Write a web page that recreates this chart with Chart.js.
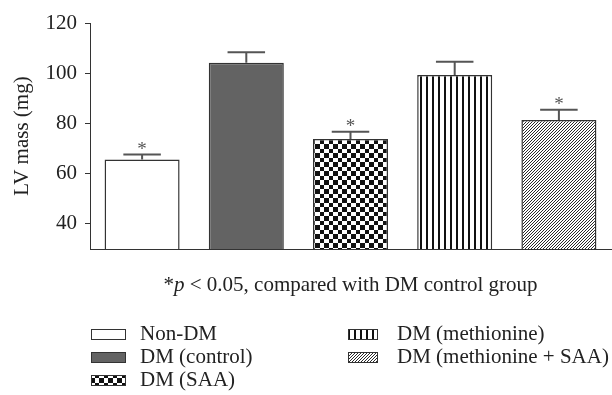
<!DOCTYPE html>
<html>
<head>
<meta charset="utf-8">
<script src="https://cdn.jsdelivr.net/npm/chart.js@4"></script>
<style>
    body { margin: 0; background: #fff; }
    #wrap { width: 612px; height: 395px; position: relative; }
</style>
</head>
<body>
<div id="wrap"><canvas id="lvChart"></canvas></div>
<script>
// Data
const groups = ['Non-DM', 'DM (control)', 'DM (SAA)', 'DM (methionine)', 'DM (methionine + SAA)'];
const lvMass = [65.6, 104.2, 73.8, 99.3, 81.4];
const lvSem = [2.0, 4.2, 2.9, 5.3, 4.1];
const significant = [true, false, true, false, true];
const yTicks = [40, 60, 80, 100, 120];

const FONT = "'Liberation Serif', 'DejaVu Serif', serif";

// Fill patterns
function makePattern(size, draw) {
    const c = document.createElement('canvas');
    c.width = size; c.height = size;
    const g = c.getContext('2d');
    g.fillStyle = '#fff';
    g.fillRect(0, 0, size, size);
    draw(g, size);
    return document.createElement('canvas').getContext('2d').createPattern(c, 'repeat');
}

const checker = makePattern(9, function(g) {
    g.fillStyle = '#111';
    g.fillRect(0, 0, 5, 5);
    g.fillRect(5, 5, 4, 4);
});

const vStripes = makePattern(6, function(g) {
    g.fillStyle = '#111';
    g.fillRect(0, 0, 2, 6);
});

const hatch = makePattern(3, function(g, s) {
    g.strokeStyle = '#2a2a2a';
    g.lineWidth = 1;
    g.beginPath();
    g.moveTo(0, s); g.lineTo(s, 0);
    g.moveTo(-1, 1); g.lineTo(1, -1);
    g.moveTo(s - 1, s + 1); g.lineTo(s + 1, s - 1);
    g.stroke();
});

const fills = ['#ffffff', '#636363', checker, vStripes, hatch];

// Error bars and asterisks
const errorBars = {
    id: 'errorBars',
    afterDatasetsDraw: function(chart) {
        const ctx = chart.ctx;
        const y = chart.scales.y;
        const meta = chart.getDatasetMeta(0);
        ctx.save();
        meta.data.forEach(function(bar, i) {
            const top = y.getPixelForValue(lvMass[i]);
            const hi = y.getPixelForValue(lvMass[i] + lvSem[i]);
            const half = bar.width / 4;
            ctx.strokeStyle = '#555';
            ctx.lineWidth = 2;
            ctx.beginPath();
            ctx.moveTo(bar.x, top);
            ctx.lineTo(bar.x, hi);
            ctx.moveTo(bar.x - half, hi);
            ctx.lineTo(bar.x + half, hi);
            ctx.stroke();
            if (significant[i]) {
                ctx.fillStyle = '#555';
                ctx.font = '19px ' + FONT;
                ctx.textAlign = 'center';
                ctx.textBaseline = 'alphabetic';
                ctx.fillText('*', bar.x, hi);
            }
        });
        ctx.restore();
    }
};

// Caption and two-column legend
const notes = {
    id: 'notes',
    afterDraw: function(chart) {
        const ctx = chart.ctx;
        const area = chart.chartArea;
        ctx.save();
        ctx.fillStyle = '#222';
        ctx.textBaseline = 'middle';
        ctx.textAlign = 'left';

        // caption, centred under the plot
        const rest = ' < 0.05, compared with DM control group';
        const cy = 285;
        ctx.font = '21px ' + FONT;
        const wStar = ctx.measureText('*').width;
        const wRest = ctx.measureText(rest).width;
        ctx.font = 'italic 21px ' + FONT;
        const wP = ctx.measureText('p').width;
        let x = (area.left + area.right) / 2 - (wStar + wP + wRest) / 2;
        ctx.font = '21px ' + FONT;
        ctx.fillText('*', x, cy);
        x += wStar;
        ctx.font = 'italic 21px ' + FONT;
        ctx.fillText('p', x, cy);
        x += wP;
        ctx.font = '21px ' + FONT;
        ctx.fillText(rest, x, cy);

        // legend
        const slots = [
            {bx: 91, bw: 34, ty: 334, tx: 140},
            {bx: 91, bw: 34, ty: 357, tx: 140},
            {bx: 91, bw: 34, ty: 380, tx: 140},
            {bx: 348, bw: 29, ty: 334, tx: 397},
            {bx: 348, bw: 29, ty: 357, tx: 397}
        ];
        groups.forEach(function(name, i) {
            const s = slots[i];
            ctx.fillStyle = fills[i];
            ctx.fillRect(s.bx, s.ty - 5, s.bw, 11);
            ctx.strokeStyle = '#333';
            ctx.lineWidth = 1;
            ctx.strokeRect(s.bx + 0.5, s.ty - 4.5, s.bw, 10);
            ctx.fillStyle = '#222';
            ctx.fillText(name, s.tx, s.ty);
        });
        ctx.restore();
    }
};

new Chart(document.getElementById('lvChart'), {
    type: 'bar',
    data: {
        labels: groups,
        datasets: [{
            data: lvMass,
            backgroundColor: fills,
            borderColor: '#333',
            borderWidth: 1.5,
            barPercentage: 0.72,
            categoryPercentage: 1
        }]
    },
    options: {
        responsive: true,
        maintainAspectRatio: false,
        animation: false,
        layout: {
            padding: { top: 23, right: 1, bottom: 146, left: 0 }
        },
        plugins: {
            legend: { display: false },
            tooltip: { enabled: false }
        },
        scales: {
            x: {
                grid: { display: false },
                border: { display: true, color: '#333', width: 1 },
                ticks: { display: false },
                afterFit: function(scale) { scale.height = 0; }
            },
            y: {
                min: 30,
                max: 120,
                afterBuildTicks: function(scale) {
                    scale.ticks = yTicks.map(function(v) { return {value: v}; });
                },
                afterFit: function(scale) { scale.width = 90; },
                grid: {
                    drawOnChartArea: false,
                    drawTicks: true,
                    tickLength: 5,
                    color: '#333'
                },
                border: { display: true, color: '#333', width: 1 },
                ticks: {
                    padding: 8,
                    color: '#222',
                    font: { family: FONT, size: 21 }
                },
                title: {
                    display: true,
                    text: 'LV mass (mg)',
                    color: '#222',
                    padding: { top: 10, bottom: 0 },
                    font: { family: FONT, size: 21 }
                }
            }
        }
    },
    plugins: [errorBars, notes]
});
</script>
</body>
</html>
